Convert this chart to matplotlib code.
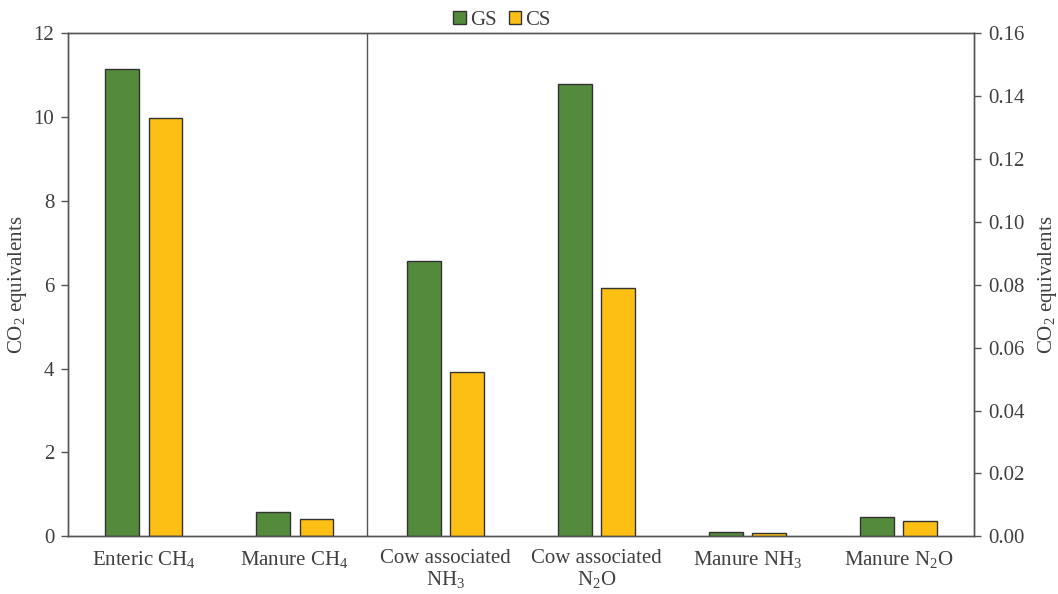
import numpy as np
import matplotlib
matplotlib.use("Agg")
import matplotlib.pyplot as plt

plt.rcParams['font.family'] = ['Liberation Serif', 'DejaVu Serif']
plt.rcParams['mathtext.default'] = 'regular'
plt.rcParams['font.size'] = 15

# emission sources, left axis for methane, right axis for the nitrogen ones
labels = ["Enteric CH$_4$", "Manure CH$_4$", "Cow associated\nNH$_3$",
          "Cow associated\nN$_2$O", "Manure NH$_3$", "Manure N$_2$O"]
gs_left = [11.15, 0.58]
cs_left = [9.97, 0.41]
gs_right = [0.0877, 0.1439, 0.0013, 0.0061]
cs_right = [0.0522, 0.0789, 0.0010, 0.0048]

green = "#548a3c"
yellow = "#fdbf13"
edge = "#333333"
txt = "#404040"
w = 0.22
off = 0.143

fig = plt.figure(figsize=(10.58, 5.94), dpi=100)
ax = fig.add_axes([0.0643, 0.0971, 0.8563, 0.8469])
ax2 = ax.twinx()

xl = np.arange(2)
xr = np.arange(2, 6)
ax.bar(xl - off, gs_left, w, color=green, edgecolor=edge, linewidth=1, label="GS")
ax.bar(xl + off, cs_left, w, color=yellow, edgecolor=edge, linewidth=1, label="CS")
ax2.bar(xr - off, gs_right, w, color=green, edgecolor=edge, linewidth=1)
ax2.bar(xr + off, cs_right, w, color=yellow, edgecolor=edge, linewidth=1)

ax.axvline(1.48, color="#555555", linewidth=1)

ax.set_xlim(-0.5, 5.5)
ax.set_ylim(0, 12)
ax2.set_ylim(0, 0.16)
ax.set_yticks(np.arange(0, 13, 2))
ax2.set_yticks(np.arange(0, 0.17, 0.02))
ax2.set_yticklabels(["%.2f" % v for v in np.arange(0, 0.17, 0.02)])
ax.set_xticks(np.arange(6))
ax.set_xticklabels(labels, color=txt, linespacing=1.1)
ax.tick_params(axis="x", length=0, pad=9)
for a in (ax, ax2):
    a.tick_params(axis="y", length=5, width=1, color="#555555", labelcolor=txt, pad=5)
    for s in a.spines.values():
        s.set_color("#555555")
        s.set_linewidth(1)

ax.set_ylabel("CO$_2$ equivalents", color=txt)
ax2.set_ylabel("CO$_2$ equivalents", color=txt, rotation=90)
ax.yaxis.set_label_coords(-0.043, 0.5)
ax2.yaxis.set_label_coords(1.068, 0.5)

ax.legend(loc="lower center", bbox_to_anchor=(0.479, 0.99), ncol=2, frameon=False,
          handlelength=0.6, handleheight=0.6, handletextpad=0.2, columnspacing=0.6,
          borderaxespad=0, labelcolor=txt)

fig.savefig("out.png", dpi=100)
